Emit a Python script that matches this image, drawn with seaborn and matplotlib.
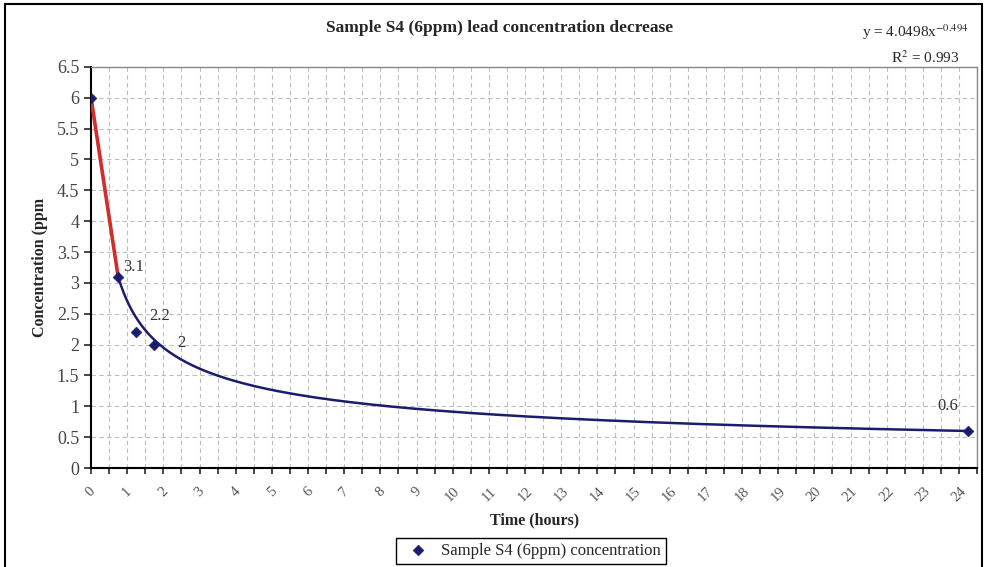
import numpy as np
import pandas as pd
import matplotlib.pyplot as plt
import seaborn as sns
from matplotlib.ticker import MultipleLocator, FuncFormatter
from matplotlib.patches import Rectangle

sns.set_theme(style="white")
plt.rcParams["font.family"] = ["Liberation Serif", "DejaVu Serif"]
plt.rcParams["mathtext.fontset"] = "stix"

# data
time_h = [0, 0.75, 1.25, 1.75, 24.25]
conc_ppm = [6.0, 3.1, 2.2, 2.0, 0.6]
point_labels = ["", "3.1", "2.2", "2", "0.6"]
hour_ticks = list(range(0, 25))
conc_ticks = [0, 0.5, 1, 1.5, 2, 2.5, 3, 3.5, 4, 4.5, 5, 5.5, 6, 6.5]

title = "Sample S4 (6ppm) lead concentration decrease"
series_name = "Sample S4 (6ppm) concentration"
eq_line = r"y = 4.0498x$^{-0.494}$"
r2_line = r"R$^{2}$ = 0.993"

pts = pd.DataFrame({"time": time_h, "conc": conc_ppm})

# power trend through the tail (3.1 -> 0.6)
tail = pts.iloc[1:]
b = np.log(tail["conc"].iloc[-1] / tail["conc"].iloc[0]) / np.log(tail["time"].iloc[-1] / tail["time"].iloc[0])
a = tail["conc"].iloc[0] / tail["time"].iloc[0] ** b
xs = np.linspace(tail["time"].iloc[0], tail["time"].iloc[-1], 300)
trend = pd.DataFrame({"time": xs, "conc": a * xs ** b})

navy = "#1c1c6e"
red = "#d42b2b"

fig = plt.figure(figsize=(9.84, 5.67), dpi=100)
ax = fig.add_axes([0.0925, 0.1746, 0.9005, 0.7074])

# initial drop and the fitted decay
sns.lineplot(data=pts.iloc[:2], x="time", y="conc", color=red, lw=2.6, ax=ax, zorder=3)
sns.lineplot(data=trend, x="time", y="conc", color=navy, lw=1.8, ax=ax, zorder=3)
sns.scatterplot(data=pts, x="time", y="conc", marker="D", s=30, color=navy,
                edgecolor=navy, ax=ax, zorder=4, label=series_name, legend=False)

offsets = [(0, 0), (11.5, 7), (16.5, 11.5), (19.5, 1.5), (-14.5, 18)]
for x, y, lab, off in zip(time_h, conc_ppm, point_labels, offsets):
    if lab:
        ax.annotate(lab, (x, y), xytext=off, textcoords="offset points",
                    ha="center", va="center", fontsize=12, color="#333333")

ax.set_xlim(0, 24.5)
ax.set_ylim(0, 6.5)
ax.set_xticks(hour_ticks)
ax.set_xticklabels([str(h) for h in hour_ticks], rotation=45, ha="center",
                   fontsize=10.5, color="#555555")
ax.xaxis.set_minor_locator(MultipleLocator(0.5))
ax.set_yticks(conc_ticks)
ax.yaxis.set_major_formatter(FuncFormatter(lambda v, p: f"{v:g}"))
ax.tick_params(axis="y", labelsize=13, length=5, width=1.2, direction="out", left=True,
               labelcolor="#444444")
ax.tick_params(axis="x", which="both", length=4, width=1.2, direction="out", bottom=True)
ax.tick_params(axis="x", which="major", pad=8)

ax.grid(True, axis="y", which="major", ls=(0, (4, 3)), color="#bdbdbd", lw=0.8)
ax.grid(True, axis="x", which="both", ls=(0, (4, 3)), color="#bdbdbd", lw=0.8)

for side in ["left", "bottom"]:
    ax.spines[side].set_color("black")
    ax.spines[side].set_linewidth(1.5)
for side in ["top", "right"]:
    ax.spines[side].set_color("#888888")
    ax.spines[side].set_linewidth(1.0)

ax.set_xlabel("Time (hours)", fontsize=11.5, fontweight="bold", labelpad=6)
ax.set_ylabel("Concentration (ppm", fontsize=11.5, fontweight="bold", labelpad=6)

fig.text(0.508, 0.95, title, ha="center", va="center", fontsize=12.5, fontweight="bold")
fig.text(0.930, 0.944, eq_line, ha="center", va="center", fontsize=11)
fig.text(0.940, 0.899, r2_line, ha="center", va="center", fontsize=11)

fig.legend(loc="upper center", bbox_to_anchor=(0.540, 0.052), frameon=True,
           fancybox=False, edgecolor="black", fontsize=12, handletextpad=0.4,
           borderpad=0.3, borderaxespad=0, framealpha=1)

fig.patches.append(Rectangle((0.005, -0.01), 0.993, 1.003, transform=fig.transFigure,
                             fill=False, edgecolor="black", lw=1.5))

fig.savefig("out.png", dpi=100)
